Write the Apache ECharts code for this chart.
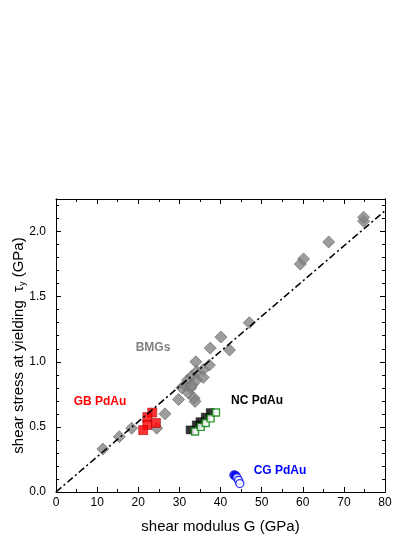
<!DOCTYPE html>
<html>
<head>
<meta charset="utf-8">
<script src="https://cdn.jsdelivr.net/npm/echarts@6/dist/echarts.min.js"></script>
<style>
  html, body { margin: 0; padding: 0; background: #fff; }
  #chart { width: 415px; height: 537px; }
</style>
</head>
<body>
<div id="chart"></div>
<script>
// shear modulus G (GPa), shear stress tau_y (GPa)
var bmgData = [
  [11.4, 0.33], [15.4, 0.425], [18.4, 0.49], [24.5, 0.49], [26.5, 0.60],
  [29.8, 0.71], [30.6, 0.80], [31.4, 0.82], [32.0, 0.86], [32.2, 0.76],
  [32.8, 0.80], [33.0, 0.89], [33.0, 0.82], [33.6, 0.72], [33.8, 0.695],
  [34.0, 1.00], [34.2, 0.925], [34.2, 0.86], [35.8, 0.94], [35.8, 0.88],
  [37.3, 0.975], [37.5, 1.105], [40.1, 1.19], [42.2, 1.09], [47.0, 1.30],
  [59.4, 1.75], [60.2, 1.79], [66.3, 1.92], [74.8, 2.08], [74.8, 2.11]
];
var gbData = [[23.4, 0.61], [22.2, 0.575], [24.3, 0.53], [22.2, 0.515], [21.2, 0.475]];
var ncFilled = [[32.6, 0.477], [34.1, 0.515], [35.0, 0.54], [36.3, 0.575], [37.5, 0.61]];
var ncOpen = [[33.8, 0.465], [35.2, 0.50], [36.4, 0.53], [37.6, 0.565], [38.9, 0.61]];
var cgFilled = [[43.3, 0.13], [43.7, 0.125]];
var cgOpen = [[44.0, 0.11], [44.4, 0.09], [44.7, 0.065]];
var fitLine = [[0, 0], [80, 2.16]];

var xTicks = { min: 0, max: 80, interval: 10 };
var yTicks = { min: 0, max: 2.25, major: 0.5, minor: 0.1 };

var chart = echarts.init(document.getElementById('chart'));

var FONT = 'Liberation Sans, Arial, sans-serif';

function xAxisOf(pos, showLabel) {
  return {
    type: 'value', position: pos, min: xTicks.min, max: xTicks.max, interval: xTicks.interval,
    axisLine: { show: true, onZero: false, lineStyle: { color: '#000', width: 1 } },
    axisTick: { show: true, inside: true, length: 5, lineStyle: { color: '#000' } },
    minorTick: { show: true, splitNumber: 2, length: 3, lineStyle: { color: '#000' } },
    splitLine: { show: false },
    axisLabel: { show: showLabel, color: '#000', fontSize: 12, fontFamily: FONT, margin: 5 },
    name: showLabel ? 'shear modulus G (GPa)' : '',
    nameLocation: 'middle', nameGap: 27,
    nameTextStyle: { color: '#000', fontSize: 15, fontFamily: FONT }
  };
}

function yAxisOf(pos, interval, len, showLabel) {
  var ax = {
    type: 'value', position: pos, min: yTicks.min, max: yTicks.max, interval: interval,
    axisLine: { show: true, onZero: false, lineStyle: { color: '#000', width: 1 } },
    axisTick: { show: true, inside: true, length: len, lineStyle: { color: '#000' } },
    splitLine: { show: false },
    axisLabel: {
      show: showLabel, color: '#000', fontSize: 12, fontFamily: FONT, margin: 10,
      formatter: function (v) {
        var k = v / yTicks.major;
        return (Math.abs(k - Math.round(k)) < 1e-6) ? v.toFixed(1) : '';
      }
    }
  };
  if (showLabel) {
    ax.name = 'shear stress at yielding  \u03c4{sub|y} (GPa)';
    ax.nameLocation = 'middle';
    ax.nameGap = 29;
    ax.nameMoveOverlap = false;
    ax.nameTextStyle = {
      color: '#000', fontSize: 15, fontFamily: FONT,
      rich: { sub: { fontSize: 9, fontFamily: FONT, color: '#000', padding: [8, 0, 0, 0] } }
    };
  }
  return ax;
}

chart.setOption({
  backgroundColor: '#fff',
  animation: false,
  grid: { left: 56, right: 30, top: 199, bottom: 45, containLabel: false, outerBoundsMode: 'none' },
  xAxis: [xAxisOf('bottom', true), xAxisOf('top', false)],
  yAxis: [
    yAxisOf('left', yTicks.minor, 3, true),
    yAxisOf('left', yTicks.major, 5, false),
    yAxisOf('right', yTicks.minor, 3, false),
    yAxisOf('right', yTicks.major, 5, false)
  ],
  series: [
    {
      type: 'scatter', name: 'BMGs', data: bmgData, symbol: 'diamond', symbolSize: 12,
      itemStyle: { color: '#858585', borderColor: '#5e5e5e', borderWidth: 0.8 }
    },
    {
      type: 'line', data: fitLine, symbol: 'none', silent: true,
      lineStyle: { color: '#000', width: 1.6, type: [7, 3, 2, 3] }
    },
    {
      type: 'scatter', name: 'GB PdAu', data: gbData, symbol: 'rect', symbolSize: 9,
      itemStyle: { color: '#ff0000', borderColor: '#a00000', borderWidth: 0.7 }
    },
    {
      type: 'scatter', name: 'NC PdAu', data: ncFilled, symbol: 'rect', symbolSize: 8,
      itemStyle: { color: '#000', borderColor: '#000', borderWidth: 0.5 }
    },
    {
      type: 'scatter', name: 'NC PdAu open', data: ncOpen, symbol: 'rect', symbolSize: 7,
      itemStyle: { color: '#fff', borderColor: '#008000', borderWidth: 1.4 }
    },
    {
      type: 'scatter', name: 'CG PdAu', data: cgFilled, symbol: 'circle', symbolSize: 9,
      itemStyle: { color: '#0000ff', borderColor: '#0000aa', borderWidth: 0.6 }
    },
    {
      type: 'scatter', name: 'CG PdAu open', data: cgOpen, symbol: 'circle', symbolSize: 8,
      itemStyle: { color: '#fff', borderColor: '#0000ff', borderWidth: 1.3 }
    }
  ],
  graphic: [
    { type: 'text', x: 153, y: 348, style: { text: 'BMGs', fill: '#808080', font: 'bold 12px ' + FONT, textAlign: 'center', textVerticalAlign: 'middle' } },
    { type: 'text', x: 100, y: 402, style: { text: 'GB PdAu', fill: '#ff0000', font: 'bold 12px ' + FONT, textAlign: 'center', textVerticalAlign: 'middle' } },
    { type: 'text', x: 257, y: 401, style: { text: 'NC PdAu', fill: '#000', font: 'bold 12px ' + FONT, textAlign: 'center', textVerticalAlign: 'middle' } },
    { type: 'text', x: 280, y: 471, style: { text: 'CG PdAu', fill: '#0000ff', font: 'bold 12px ' + FONT, textAlign: 'center', textVerticalAlign: 'middle' } }
  ]
});
</script>
</body>
</html>
